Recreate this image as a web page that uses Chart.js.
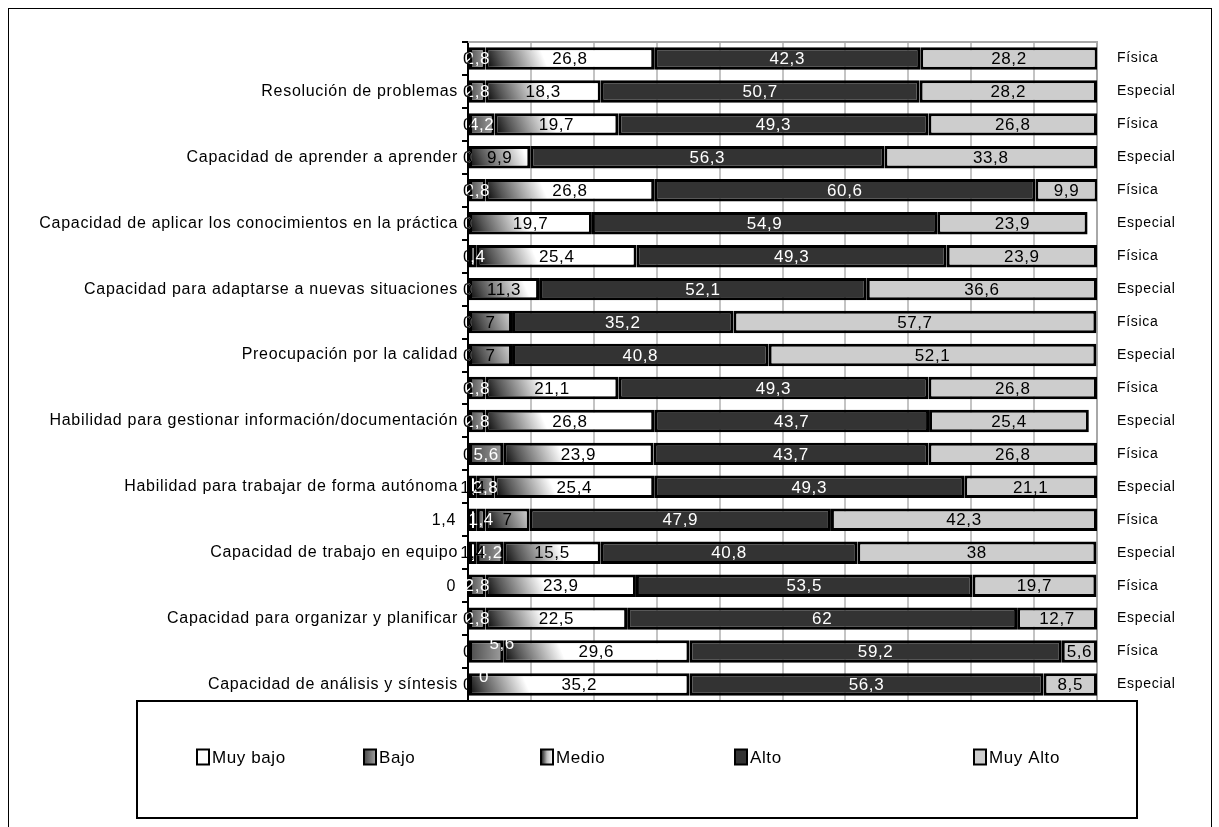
<!DOCTYPE html>
<html>
<head>
<meta charset="utf-8">
<script src="https://cdn.jsdelivr.net/npm/chart.js@4.4.1/dist/chart.umd.min.js"></script>
<style>
  html, body { margin: 0; padding: 0; background: #ffffff; }
  #wrap { position: relative; width: 1219px; height: 827px; overflow: hidden; }
  #frame { position: absolute; left: 8px; top: 8px; width: 1204px; height: 840px;
           border: 1px solid #000; box-sizing: border-box; pointer-events: none; }
  canvas { position: absolute; left: 0; top: 0; }
</style>
</head>
<body>
<div id="wrap">
  <canvas id="chart" width="1219" height="827"></canvas>
  <div id="frame"></div>
</div>
<script>
// Competencias: one bar per group (Física / Especial) for each skill
const categories = [
  '', 'Resolución de problemas',
  '', 'Capacidad de aprender a aprender',
  '', 'Capacidad de aplicar los conocimientos en la práctica',
  '', 'Capacidad para adaptarse a nuevas situaciones',
  '', 'Preocupación por la calidad',
  '', 'Habilidad para gestionar información/documentación',
  '', 'Habilidad para trabajar de forma autónoma',
  '', 'Capacidad de trabajo en equipo',
  '', 'Capacidad para organizar y planificar',
  '', 'Capacidad de análisis y síntesis'
];
const groups = [
  'Física', 'Especial', 'Física', 'Especial', 'Física', 'Especial', 'Física', 'Especial',
  'Física', 'Especial', 'Física', 'Especial', 'Física', 'Especial', 'Física', 'Especial',
  'Física', 'Especial', 'Física', 'Especial'
];
const seriesNames = ['Muy bajo', 'Bajo', 'Medio', 'Alto', 'Muy Alto'];

const muyBajo = [0, 0, 0, 0, 0, 0, 0, 0, 0, 0, 0, 0, 0, 1.4, 1.4, 1.4, 0, 0, 0, 0];
const bajo    = [2.8, 2.8, 4.2, 0, 2.8, 0, 1.4, 0, 0, 0, 2.8, 2.8, 5.6, 2.8, 1.4, 4.2, 2.8, 2.8, 5.6, 0];
const medio   = [26.8, 18.3, 19.7, 9.9, 26.8, 19.7, 25.4, 11.3, 7, 7, 21.1, 26.8, 23.9, 25.4, 7, 15.5, 23.9, 22.5, 29.6, 35.2];
const alto    = [42.3, 50.7, 49.3, 56.3, 60.6, 54.9, 49.3, 52.1, 35.2, 40.8, 49.3, 43.7, 43.7, 49.3, 47.9, 40.8, 53.5, 62, 59.2, 56.3];
const muyAlto = [28.2, 28.2, 26.8, 33.8, 9.9, 23.9, 23.9, 36.6, 57.7, 52.1, 26.8, 25.4, 26.8, 21.1, 42.3, 38, 19.7, 12.7, 5.6, 8.5];

const axisTicks = [0, 10, 20, 30, 40, 50, 60, 70, 80, 90, 100];

const FONT = "'Liberation Sans', Arial, sans-serif";
const BAR_PCT = 0.68;
const series = [muyBajo, bajo, medio, alto, muyAlto];

// Pixel box of one stacked segment, computed through the chart scales
function segBox(ctx) {
  const chart = ctx.chart;
  const xs = chart.scales && chart.scales.x;
  const ys = chart.scales && chart.scales.y;
  if (!xs || !ys || !chart.chartArea) return null;
  const i = ctx.dataIndex, d = ctx.datasetIndex;
  let start = 0;
  for (let k = 0; k < d; k++) start += series[k][i] || 0;
  const v = series[d][i] || 0;
  const yc = ys.getPixelForValue(i);
  const h = (ys.bottom - ys.top) / categories.length * BAR_PCT;
  return { x0: xs.getPixelForValue(start), x1: xs.getPixelForValue(start + v), y0: yc - h / 2, y1: yc + h / 2 };
}

function bajoFill(g, x0, x1) {
  const gr = g.createLinearGradient(x0, 0, Math.max(x1, x0 + 1), 0);
  gr.addColorStop(0, '#484848');
  gr.addColorStop(1, '#a0a0a0');
  return gr;
}
function medioFill(g, x0, y0, y1, span) {
  const gr = g.createLinearGradient(x0, y1, x0 + span, y0);
  gr.addColorStop(0, '#000000');
  gr.addColorStop(0.3, '#555555');
  gr.addColorStop(1, '#ffffff');
  return gr;
}

const fills = [
  () => '#ffffff',
  (ctx) => { const b = segBox(ctx); return b ? bajoFill(ctx.chart.ctx, b.x0, b.x1) : '#808080'; },
  (ctx) => { const b = segBox(ctx); return b ? medioFill(ctx.chart.ctx, b.x0, b.y0, b.y1, 54) : '#e0e0e0'; },
  () => '#333333',
  () => '#cdcdcd'
];
const labelColors = ['#000000', '#ffffff', '#000000', '#ffffff', '#000000'];

const datasets = series.map((data, k) => ({
  label: seriesNames[k],
  data: data,
  backgroundColor: fills[k],
  borderColor: '#000000',
  borderWidth: 3,
  borderSkipped: false,
  categoryPercentage: 1,
  barPercentage: BAR_PCT,
  yAxisID: 'y'
}));

const fmt = (v) => String(v).replace('.', ',');

// Plot-area frame (top edge), drawn under the bars
const plotFrame = {
  id: 'plotFrame',
  beforeDraw(chart) {
    chart.ctx.letterSpacing = '0.7px';
  },
  beforeDatasetsDraw(chart) {
    const a = chart.chartArea, g = chart.ctx;
    g.save();
    g.strokeStyle = '#a8a8a8';
    g.lineWidth = 2;
    g.beginPath();
    g.moveTo(a.left, a.top);
    g.lineTo(a.right, a.top);
    g.lineTo(a.right, a.bottom);
    g.stroke();
    g.restore();
  }
};

// Value labels centred in each segment
const valueLabels = {
  id: 'valueLabels',
  afterDatasetsDraw(chart) {
    const g = chart.ctx;
    const outside = { 14: true, 16: true };   // Muy bajo labels set beside the axis
    g.save();
    g.textBaseline = 'middle';
    const order = [1, 0, 2, 3, 4];
    order.forEach((d) => {
      const meta = chart.getDatasetMeta(d);
      meta.data.forEach((el, i) => {
        const v = series[d][i];
        if (v === null || v === undefined) return;
        let cx = (el.x + el.base) / 2, cy = el.y;
        g.font = '17px ' + FONT;
        g.letterSpacing = '0.6px';
        g.fillStyle = labelColors[d];
        g.textAlign = 'center';
        if (d === 0 && outside[i]) {
          g.textAlign = 'right';
          g.font = '16px ' + FONT;
          g.letterSpacing = '0.7px';
          cx = chart.chartArea.left - 12;
        }
        if (d === 1 && i >= 18) { cx += 16; cy -= 8; }
        g.fillText(fmt(v), cx, cy + 1);
      });
    });
    g.restore();
  }
};

// Boxed legend under the plot
const boxedLegend = {
  id: 'boxedLegend',
  afterDraw(chart) {
    const g = chart.ctx;
    const box = { x: 137, y: 701, w: 1000, h: 117 };
    g.save();
    g.fillStyle = '#ffffff';
    g.fillRect(box.x, box.y, box.w, box.h);
    g.strokeStyle = '#000000';
    g.lineWidth = 2;
    g.strokeRect(box.x, box.y, box.w, box.h);
    const xs = [60, 227, 404, 598, 837];
    const cy = box.y + 56;
    g.font = '17px ' + FONT;
    g.letterSpacing = '0.6px';
    g.textBaseline = 'middle';
    g.textAlign = 'left';
    seriesNames.forEach((name, k) => {
      const sx = box.x + xs[k], sw = 12, sh = 15, sy = cy - sh / 2;
      let f;
      if (k === 0) f = '#ffffff';
      else if (k === 1) f = bajoFill(g, sx, sx + sw);
      else if (k === 2) { f = g.createLinearGradient(sx, 0, sx + sw, 0); f.addColorStop(0, '#111'); f.addColorStop(0.5, '#bbb'); f.addColorStop(1, '#fff'); }
      else if (k === 3) f = '#333333';
      else f = '#cdcdcd';
      g.fillStyle = f;
      g.fillRect(sx, sy, sw, sh);
      g.strokeStyle = '#000';
      g.lineWidth = 2;
      g.strokeRect(sx, sy, sw, sh);
      g.fillStyle = '#000';
      g.fillText(name, sx + sw + 3, cy + 1);
    });
    g.restore();
  }
};

new Chart(document.getElementById('chart'), {
  type: 'bar',
  data: { labels: categories, datasets: datasets },
  options: {
    indexAxis: 'y',
    responsive: false,
    animation: false,
    layout: { padding: { left: 8, right: 12, top: 42, bottom: 126 } },
    plugins: { legend: { display: false }, tooltip: { enabled: false } },
    scales: {
      x: {
        type: 'linear',
        stacked: true,
        min: axisTicks[0],
        max: axisTicks[axisTicks.length - 1],
        afterBuildTicks(scale) { scale.ticks = axisTicks.map(v => ({ value: v })); },
        ticks: { display: false },
        grid: { color: '#c4c4c4', lineWidth: 2, drawTicks: false },
        border: { display: false },
        afterFit(scale) { scale.height = 0; }
      },
      y: {
        type: 'category',
        stacked: true,
        position: 'left',
        offset: true,
        ticks: { autoSkip: false, color: '#000', font: { family: FONT, size: 16 }, padding: 4 },
        grid: { offset: true, drawOnChartArea: false, drawTicks: true, tickLength: 6, color: '#000', lineWidth: 2 },
        border: { display: true, color: '#000', width: 2 },
        afterFit(scale) { scale.width = 460; }
      },
      y2: {
        type: 'category',
        labels: groups,
        position: 'right',
        offset: true,
        ticks: { autoSkip: false, color: '#000', font: { family: FONT, size: 14 }, padding: 20 },
        grid: { display: false, drawTicks: false },
        border: { display: false },
        afterFit(scale) { scale.width = 110; }
      }
    }
  },
  plugins: [plotFrame, valueLabels, boxedLegend]
});
</script>
</body>
</html>
